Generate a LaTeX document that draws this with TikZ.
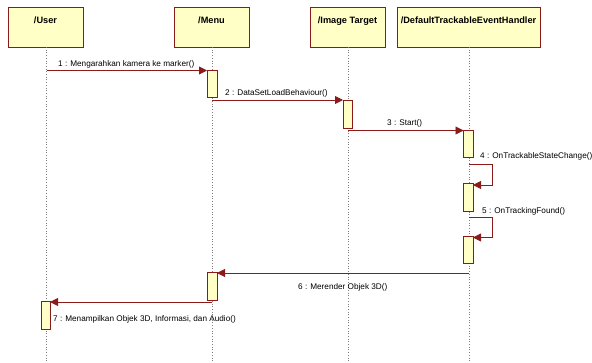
\documentclass[tikz,border=0pt]{standalone}
\usepackage{fontspec}
\setmainfont{Liberation Sans}
\usetikzlibrary{arrows.meta}
\definecolor{umlred}{HTML}{8B1A1A}
\definecolor{umlfill}{HTML}{FFFFC6}
\begin{document}
\begin{tikzpicture}[x=1pt,y=-1pt,
  objbox/.style={draw=umlred,fill=umlfill,line width=0.9pt},
  actbox/.style={draw=umlred,fill=umlfill,line width=0.8pt},
  lifeline/.style={draw=gray,dotted,line width=0.7pt},
  msg/.style={draw=umlred,line width=0.9pt,-{Triangle[length=8pt,width=8pt]}},
  ttl/.style={font=\fontsize{9.2}{10}\selectfont\bfseries,anchor=base,inner sep=0pt},
  lbl/.style={font=\fontsize{8.2}{9}\selectfont,inner sep=0pt,anchor=base west}]
\useasboundingbox (0,0) rectangle (592,362);
% object boxes
\draw[objbox] (8,7) rectangle (83,47);
\draw[objbox] (174,7) rectangle (249,47);
\draw[objbox] (310,7) rectangle (385,47);
\draw[objbox] (397,7) rectangle (540,47);
\node[ttl] (tU) at (45.5,23) {/User};
\node[ttl] (tM) at (211.5,23) {/Menu};
\node[ttl] (tI) at (347.5,23) {/Image Target};
\node[ttl] (tD) at (468.5,23) {/DefaultTrackableEventHandler};
% lifelines
\coordinate (uT) at (46.5,47); \coordinate (uB) at (46.5,362);
\coordinate (mT) at (212,47); \coordinate (mB) at (212,362);
\coordinate (iT) at (348,47); \coordinate (iB) at (348,362);
\coordinate (dT) at (469,47); \coordinate (dB) at (469,362);
\draw[lifeline] (uT) -- (uB);
\draw[lifeline] (mT) -- (mB);
\draw[lifeline] (iT) -- (iB);
\draw[lifeline] (dT) -- (dB);
% activations
\draw[actbox] (207,70) rectangle (217,97);
\draw[actbox] (343,100) rectangle (352,128);
\draw[actbox] (463.5,130) rectangle (473,157);
\draw[actbox] (463.5,183) rectangle (473,211);
\draw[actbox] (463.5,236) rectangle (473,263);
\draw[actbox] (207,272) rectangle (217,300);
\draw[actbox] (41,301) rectangle (50,329);
% coordinates for messages
\coordinate (m1s) at (46.5,70.5); \coordinate (m1e) at (207,70.5);
\coordinate (m2s) at (212,100); \coordinate (m2e) at (343,100);
\coordinate (m3s) at (348,130.5); \coordinate (m3e) at (463.5,130.5);
\coordinate (m4s) at (469,164); \coordinate (m4a) at (492,164); \coordinate (m4b) at (492,185); \coordinate (m4e) at (473,185);
\coordinate (m5s) at (469,217); \coordinate (m5a) at (492,217); \coordinate (m5b) at (492,237.5); \coordinate (m5e) at (473,237.5);
\coordinate (m6s) at (469,273); \coordinate (m6e) at (217,273);
\coordinate (m7s) at (212,302); \coordinate (m7e) at (50,302);
\draw[msg] (m1s) -- (m1e);
\draw[msg] (m2s) -- (m2e);
\draw[msg] (m3s) -- (m3e);
\draw[msg] (m4s) -- (m4a) -- (m4b) -- (m4e);
\draw[msg] (m5s) -- (m5a) -- (m5b) -- (m5e);
\draw[msg] (m6s) -- (m6e);
\draw[msg] (m7s) -- (m7e);
% labels
\node[lbl] (l1) at (58,66) {1 : Mengarahkan kamera ke marker()};
\node[lbl] (l2) at (225,95.5) {2 : DataSetLoadBehaviour()};
\node[lbl] (l3) at (387,125.5) {3 : Start()};
\node[lbl] (l4) at (480,158.5) {4 : OnTrackableStateChange()};
\node[lbl] (l5) at (482,213) {5 : OnTrackingFound()};
\node[lbl] (l6) at (298,289) {6 : Merender Objek 3D()};
\node[lbl] (l7) at (53,321.5) {7 : Menampilkan Objek 3D, Informasi, dan Audio()};
\end{tikzpicture}
\end{document}
